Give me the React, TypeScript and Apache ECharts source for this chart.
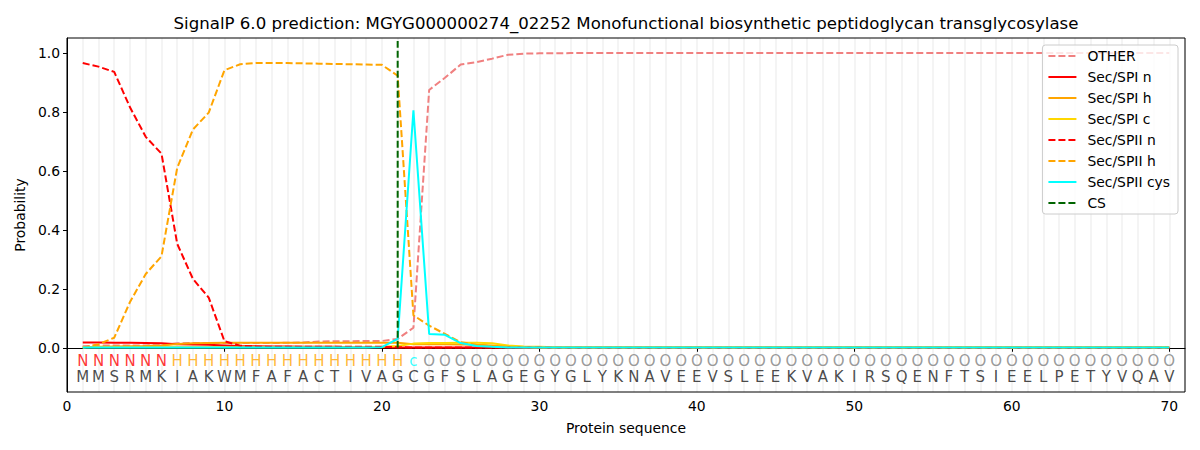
import React, { useEffect, useRef } from "react";
import * as echarts from "echarts";

const sequence = "MMSRMKIAKWMFAFACTIVAGCGFSLAGEGYGLYKNAVEEVSLEEKVAKIRSQENFTSIEELPETYVQAV".split("");
const states = "NNNNNNHHHHHHHHHHHHHHHcOOOOOOOOOOOOOOOOOOOOOOOOOOOOOOOOOOOOOOOOOOOOOOOO".split("");
const positions = sequence.map((_, i) => i + 1);

const other = [
  0.005, 0.008, 0.008, 0.008, 0.008, 0.009, 0.015, 0.016, 0.016, 0.016,
  0.016, 0.016, 0.016, 0.017, 0.018, 0.021, 0.022, 0.022, 0.023, 0.023,
  0.03, 0.068, 0.874, 0.915, 0.96, 0.968, 0.98, 0.993, 0.997, 0.998,
  0.998, 0.999, 0.999, 0.999, 0.999, 0.999, 0.999, 0.999, 0.999, 0.999,
  0.999, 0.999, 0.999, 0.999, 0.999, 0.999, 0.999, 0.999, 0.999, 0.999,
  0.999, 0.999, 0.999, 0.999, 0.999, 0.999, 0.999, 0.999, 0.999, 0.999,
  0.999, 0.999, 0.999, 0.999, 0.999, 0.999, 0.999, 0.999, 0.999, 0.999,
];
const secSpiN = [
  0.018, 0.018, 0.017, 0.017, 0.016, 0.015, 0.012, 0.011, 0.01, 0.008,
  0.006, 0.005, 0.004, 0.004, 0.003, 0.003, 0.003, 0.002, 0.002, 0.002,
  0.001, 0.001, 0.001, 0.001, 0.001, 0.001, 0.001, 0.001, 0.0, 0.0,
  0.0, 0.0, 0.0, 0.0, 0.0, 0.0, 0.0, 0.0, 0.0, 0.0,
  0.0, 0.0, 0.0, 0.0, 0.0, 0.0, 0.0, 0.0, 0.0, 0.0,
  0.0, 0.0, 0.0, 0.0, 0.0, 0.0, 0.0, 0.0, 0.0, 0.0,
  0.0, 0.0, 0.0, 0.0, 0.0, 0.0, 0.0, 0.0, 0.0, 0.0,
];
const secSpiH = [
  0.002, 0.003, 0.004, 0.005, 0.006, 0.008, 0.013, 0.015, 0.016, 0.017,
  0.017, 0.017, 0.017, 0.017, 0.017, 0.017, 0.017, 0.017, 0.017, 0.017,
  0.017, 0.012, 0.012, 0.012, 0.011, 0.01, 0.008, 0.004, 0.002, 0.001,
  0.001, 0.001, 0.001, 0.001, 0.001, 0.001, 0.001, 0.001, 0.001, 0.001,
  0.001, 0.001, 0.001, 0.001, 0.001, 0.001, 0.001, 0.001, 0.001, 0.001,
  0.001, 0.001, 0.001, 0.001, 0.001, 0.001, 0.001, 0.001, 0.001, 0.001,
  0.001, 0.001, 0.001, 0.001, 0.001, 0.001, 0.001, 0.001, 0.001, 0.001,
];
const secSpiC = [
  0.002, 0.002, 0.002, 0.002, 0.002, 0.002, 0.002, 0.002, 0.002, 0.002,
  0.002, 0.002, 0.002, 0.002, 0.002, 0.002, 0.002, 0.002, 0.002, 0.003,
  0.006, 0.014, 0.016, 0.016, 0.017, 0.017, 0.015, 0.008, 0.004, 0.003,
  0.002, 0.002, 0.002, 0.002, 0.002, 0.002, 0.002, 0.002, 0.002, 0.002,
  0.002, 0.002, 0.002, 0.002, 0.002, 0.002, 0.002, 0.002, 0.002, 0.002,
  0.002, 0.002, 0.002, 0.002, 0.002, 0.002, 0.002, 0.002, 0.002, 0.002,
  0.002, 0.002, 0.002, 0.002, 0.002, 0.002, 0.002, 0.002, 0.002, 0.002,
];
const secSpiiN = [
  0.965, 0.953, 0.935, 0.815, 0.715, 0.658, 0.352, 0.233, 0.17, 0.022,
  0.007, 0.004, 0.003, 0.003, 0.003, 0.003, 0.003, 0.003, 0.003, 0.003,
  0.002, 0.001, 0.001, 0.001, 0.001, 0.001, 0.001, 0.001, 0.001, 0.001,
  0.0, 0.0, 0.0, 0.0, 0.0, 0.0, 0.0, 0.0, 0.0, 0.0,
  0.0, 0.0, 0.0, 0.0, 0.0, 0.0, 0.0, 0.0, 0.0, 0.0,
  0.0, 0.0, 0.0, 0.0, 0.0, 0.0, 0.0, 0.0, 0.0, 0.0,
  0.0, 0.0, 0.0, 0.0, 0.0, 0.0, 0.0, 0.0, 0.0, 0.0,
];
const secSpiiH = [
  0.0, 0.012, 0.034, 0.155, 0.25, 0.31, 0.61, 0.74, 0.797, 0.941,
  0.961, 0.965, 0.965, 0.965, 0.964, 0.963, 0.962, 0.961, 0.96, 0.959,
  0.922, 0.11, 0.075, 0.047, 0.019, 0.01, 0.005, 0.003, 0.002, 0.001,
  0.001, 0.001, 0.001, 0.001, 0.001, 0.001, 0.001, 0.001, 0.001, 0.001,
  0.001, 0.001, 0.001, 0.001, 0.001, 0.001, 0.001, 0.001, 0.001, 0.001,
  0.001, 0.001, 0.001, 0.001, 0.001, 0.001, 0.001, 0.001, 0.001, 0.001,
  0.001, 0.001, 0.001, 0.001, 0.001, 0.001, 0.001, 0.001, 0.001, 0.001,
];
const secSpiiCys = [
  0.001, 0.001, 0.001, 0.001, 0.001, 0.001, 0.001, 0.001, 0.001, 0.001,
  0.001, 0.001, 0.001, 0.001, 0.001, 0.001, 0.001, 0.001, 0.001, 0.002,
  0.03, 0.805, 0.047, 0.044, 0.016, 0.006, 0.003, 0.001, 0.001, 0.001,
  0.001, 0.001, 0.001, 0.001, 0.001, 0.001, 0.001, 0.001, 0.001, 0.001,
  0.001, 0.001, 0.001, 0.001, 0.001, 0.001, 0.001, 0.001, 0.001, 0.001,
  0.001, 0.001, 0.001, 0.001, 0.001, 0.001, 0.001, 0.001, 0.001, 0.001,
  0.001, 0.001, 0.001, 0.001, 0.001, 0.001, 0.001, 0.001, 0.001, 0.001,
];
const csPosition = 21;
const csSpan = [0, 1.04];

const yTicks = [0, 0.2, 0.4, 0.6, 0.8, 1.0];
const xTicks = [0, 10, 20, 30, 40, 50, 60, 70];

const stateColors: Record<string, string> = { N: "#ff0000", H: "#ffa500", c: "#00ffff", O: "#808080" };

const FONT = "DejaVu Sans";
const DASH = [7, 3];

function lineSeries(name: string, values: number[], color: string, dashed: boolean) {
  return {
    name,
    type: "line",
    data: values.map((v, i) => [positions[i], v]),
    symbol: "none",
    showSymbol: false,
    lineStyle: { color, width: 2, type: dashed ? DASH : "solid" },
    itemStyle: { color },
    z: 3,
  };
}

export default function App() {
  const ref = useRef<HTMLDivElement>(null);
  useEffect(() => {
    document.body.style.margin = "0";
    if (!ref.current) return;
    const chart = echarts.init(ref.current, undefined, { renderer: "svg" });
    const option = {
      animation: false,
      textStyle: { fontFamily: FONT },
      graphic: [
        {
          type: "text",
          x: 626,
          y: 23,
          style: {
            text: "SignalP 6.0 prediction: MGYG000000274_02252 Monofunctional biosynthetic peptidoglycan transglycosylase",
            fontFamily: FONT,
            fontSize: 16.6,
            fill: "#000",
            textAlign: "center",
            textVerticalAlign: "middle",
          },
        },
      ],
      grid: {
        left: 67,
        right: 15,
        top: 38,
        bottom: 58,
        show: true,
        borderColor: "#000",
        borderWidth: 1,
        backgroundColor: "transparent",
        z: 10,
      },
      legend: {
        orient: "vertical",
        right: 22,
        top: 45,
        padding: [4, 8, 4, 5],
        itemWidth: 28,
        itemHeight: 14,
        itemGap: 7,
        backgroundColor: "rgba(255,255,255,0.8)",
        borderColor: "#cccccc",
        borderWidth: 1,
        borderRadius: 3,
        itemStyle: { opacity: 0 },
        textStyle: { fontFamily: FONT, fontSize: 13.9, color: "#000", padding: [0, 0, 0, 6] },
        data: ["OTHER", "Sec/SPI n", "Sec/SPI h", "Sec/SPI c", "Sec/SPII n", "Sec/SPII h", "Sec/SPII cys", "CS"],
      },
      xAxis: [
        {
          type: "value",
          min: 0,
          max: 71,
          name: "Protein sequence",
          nameLocation: "middle",
          nameGap: 29,
          nameTextStyle: { fontFamily: FONT, fontSize: 13.9, color: "#000" },
          axisLine: { show: true, lineStyle: { color: "#000", width: 1 } },
          axisTick: { show: true, length: 4, lineStyle: { color: "#000" }, customValues: xTicks },
          axisLabel: {
            show: true,
            customValues: xTicks,
            margin: 7,
            fontFamily: FONT,
            fontSize: 13.9,
            color: "#000",
            formatter: (v: number) => String(v),
          },
          splitLine: { show: false },
        },
        {
          type: "value",
          min: 0,
          max: 71,
          interval: 1,
          position: "top",
          axisLine: { show: false },
          axisTick: { show: false },
          axisLabel: { show: false },
          splitLine: { show: true, lineStyle: { color: "#f0f0f0", width: 1.5 } },
        },
      ],
      yAxis: {
        type: "value",
        min: -0.15,
        max: 1.05,
        name: "Probability",
        nameLocation: "middle",
        nameGap: 38,
        nameTextStyle: { fontFamily: FONT, fontSize: 13.9, color: "#000" },
        axisLine: { show: true, lineStyle: { color: "#000", width: 1 } },
        axisTick: { show: true, length: 4, lineStyle: { color: "#000" }, customValues: yTicks },
        axisLabel: {
          show: true,
          customValues: yTicks,
          margin: 7,
          fontFamily: FONT,
          fontSize: 13.9,
          color: "#000",
          formatter: (v: number) => v.toFixed(1),
        },
        splitLine: { show: false },
      },
      series: [
        lineSeries("OTHER", other, "#f08080", true),
        lineSeries("Sec/SPI n", secSpiN, "#ff0000", false),
        lineSeries("Sec/SPI h", secSpiH, "#ffa500", false),
        lineSeries("Sec/SPI c", secSpiC, "#ffd700", false),
        lineSeries("Sec/SPII n", secSpiiN, "#ff0000", true),
        lineSeries("Sec/SPII h", secSpiiH, "#ffa500", true),
        lineSeries("Sec/SPII cys", secSpiiCys, "#00ffff", false),
        {
          name: "CS",
          type: "line",
          data: csSpan.map((y) => [csPosition, y]),
          symbol: "none",
          showSymbol: false,
          lineStyle: { color: "#006400", width: 2, type: DASH },
          itemStyle: { color: "#006400" },
          z: 4,
        },
        {
          name: "states",
          type: "scatter",
          silent: true,
          symbolSize: 1,
          itemStyle: { color: "rgba(0,0,0,0)" },
          data: states.map((s, i) => ({
            name: s,
            value: [positions[i], -0.046],
            label: { color: stateColors[s] },
          })),
          label: {
            show: true,
            position: "inside",
            formatter: "{b}",
            fontFamily: FONT,
            fontSize: 15,
          },
        },
        {
          name: "residues",
          type: "scatter",
          silent: true,
          symbolSize: 1,
          itemStyle: { color: "rgba(0,0,0,0)" },
          data: sequence.map((s, i) => ({ name: s, value: [positions[i], -0.1] })),
          label: {
            show: true,
            position: "inside",
            formatter: "{b}",
            fontFamily: FONT,
            fontSize: 15,
            color: "#1a1a1a",
          },
        },
      ],
    };
    chart.setOption(option as any);
    return () => chart.dispose();
  }, []);
  return <div ref={ref} style={{ width: 1200, height: 450 }} />;
}
